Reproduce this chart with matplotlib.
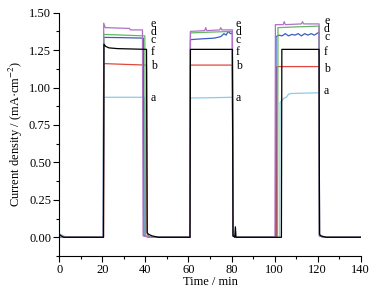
import matplotlib
matplotlib.use("Agg")
import matplotlib.pyplot as plt
from matplotlib.ticker import MultipleLocator

plt.rcParams["font.family"] = "Liberation Serif"
plt.rcParams["mathtext.fontset"] = "stix"

# (time in min, current density in mA/cm2)
a_t = [0, 0.4, 3, 20.4, 20.6, 30, 39.6, 39.9, 42, 60.7, 60.9, 70, 80.4, 80.7, 83,
       102.4, 102.6, 103.5, 104.5, 105.5, 106.5, 107.5, 112, 120.7, 120.9, 123, 140]
a_v = [0.01, 0.02, 0.003, 0.0, 0.935, 0.935, 0.935, 0.01, 0.0, 0.0, 0.93, 0.932, 0.935, 0.01, 0.0,
       0.0, 0.90, 0.915, 0.93, 0.935, 0.955, 0.96, 0.962, 0.965, 0.01, 0.0, 0.0]

b_t = [0, 20.5, 20.7, 30, 40.5, 40.8, 42, 60.7, 60.9, 80.4, 80.7, 83,
       100.9, 101.1, 120.7, 120.9, 123, 140]
b_v = [0.0, 0.0, 1.16, 1.155, 1.15, 0.02, 0.0, 0.0, 1.15, 1.15, 0.01, 0.0,
       0.0, 1.14, 1.14, 0.01, 0.0, 0.0]

c_t = [0, 20.4, 20.6, 30, 39.0, 39.3, 42, 60.7, 60.9, 66, 72, 75, 76.5, 77.5, 78.5, 79.5, 80.4, 80.7, 83,
       100.5, 100.7, 102, 103.5, 105, 106.5, 108, 109.5, 111, 112.5, 114, 115.5, 117, 118.5, 120.7, 120.9, 123, 140]
c_v = [0.0, 0.0, 1.335, 1.333, 1.33, 0.01, 0.0, 0.0, 1.32, 1.325, 1.33, 1.34, 1.36, 1.35, 1.375, 1.36, 1.365, 0.01, 0.0,
       0.0, 1.34, 1.35, 1.345, 1.36, 1.345, 1.355, 1.35, 1.36, 1.345, 1.36, 1.35, 1.36, 1.35, 1.37, 0.01, 0.0, 0.0]

d_t = [0, 20.4, 20.6, 30, 39.7, 40.0, 42, 60.7, 60.9, 70, 80.4, 80.7, 83,
       101.4, 101.6, 110, 120.7, 120.9, 123, 140]
d_v = [0.0, 0.0, 1.355, 1.35, 1.345, 0.01, 0.0, 0.0, 1.365, 1.37, 1.375, 0.01, 0.0,
       0.0, 1.40, 1.405, 1.41, 0.01, 0.0, 0.0]

e_t = [0, 20.4, 20.6, 21.3, 32.5, 33.0, 38.6, 38.9, 42, 60.7, 60.9, 67.5, 68.0, 68.5, 74.5, 75.0, 75.5, 80.4, 80.7, 83,
       100.2, 100.4, 104.0, 104.5, 105.0, 112.5, 113.0, 113.5, 120.7, 120.9, 123, 140]
e_v = [0.0, 0.0, 1.43, 1.40, 1.395, 1.385, 1.385, 0.01, 0.0, 0.0, 1.375, 1.38, 1.40, 1.38, 1.385, 1.40, 1.385, 1.385, 0.01, 0.0,
       0.0, 1.42, 1.42, 1.44, 1.42, 1.425, 1.44, 1.425, 1.425, 0.01, 0.0, 0.0]

f_t = [0, 0.3, 2, 20.5, 20.7, 21.5, 23, 27, 40.5, 40.8, 41.5, 43, 46, 60.7, 60.9, 80.4, 80.7, 81.5, 81.8, 82.1, 84,
       103.2, 103.4, 120.7, 120.9, 121.5, 124, 140]
f_v = [0.02, 0.015, 0.0, 0.0, 1.29, 1.275, 1.265, 1.26, 1.255, 0.03, 0.02, 0.01, 0.0, 0.0, 1.255, 1.255, 0.01, 0.0, 0.07, 0.0, 0.0,
       0.0, 1.255, 1.255, 0.02, 0.01, 0.0, 0.0]

curves = [("a", a_t, a_v, "#8ccbe6"), ("b", b_t, b_v, "#e0483e"), ("c", c_t, c_v, "#3a5cc4"),
          ("d", d_t, d_v, "#62b862"), ("e", e_t, e_v, "#b070c8"), ("f", f_t, f_v, "black")]

# label positions next to each pulse
label_x = [42.5, 82.0, 123.0]
label_y = {
    "e": [1.425, 1.425, 1.445],
    "d": [1.37, 1.37, 1.39],
    "c": [1.315, 1.315, 1.335],
    "f": [1.24, 1.24, 1.24],
    "b": [1.145, 1.145, 1.125],
    "a": [0.93, 0.93, 0.975],
}

fig = plt.figure(figsize=(3.76, 2.88), dpi=100)
ax = fig.add_axes([0.158, 0.111, 0.801, 0.845])

for name, t, v, col in curves:
    ax.plot(t, v, color=col, lw=0.9)

for name, ys in label_y.items():
    for x, y in zip(label_x, ys):
        ax.text(x, y, name, fontsize=8.5, ha="left", va="center")

ax.set_xlim(0, 140)
ax.set_ylim(-0.125, 1.5)
ax.xaxis.set_major_locator(MultipleLocator(20))
ax.xaxis.set_minor_locator(MultipleLocator(10))
ax.yaxis.set_major_locator(MultipleLocator(0.25))
ax.yaxis.set_minor_locator(MultipleLocator(0.125))
ax.yaxis.set_major_formatter(plt.FormatStrFormatter("%.2f"))
ax.tick_params(which="major", direction="out", length=4, width=0.8, labelsize=9, pad=2)
ax.tick_params(which="minor", direction="out", length=2, width=0.8)
for s in ["top", "right"]:
    ax.spines[s].set_visible(False)

ax.set_xlabel("Time / min", fontsize=9, labelpad=0)
ax.set_ylabel("Current density / (mA·cm$^{-2}$)", fontsize=9, labelpad=3)

fig.savefig("out.png", dpi=100)
